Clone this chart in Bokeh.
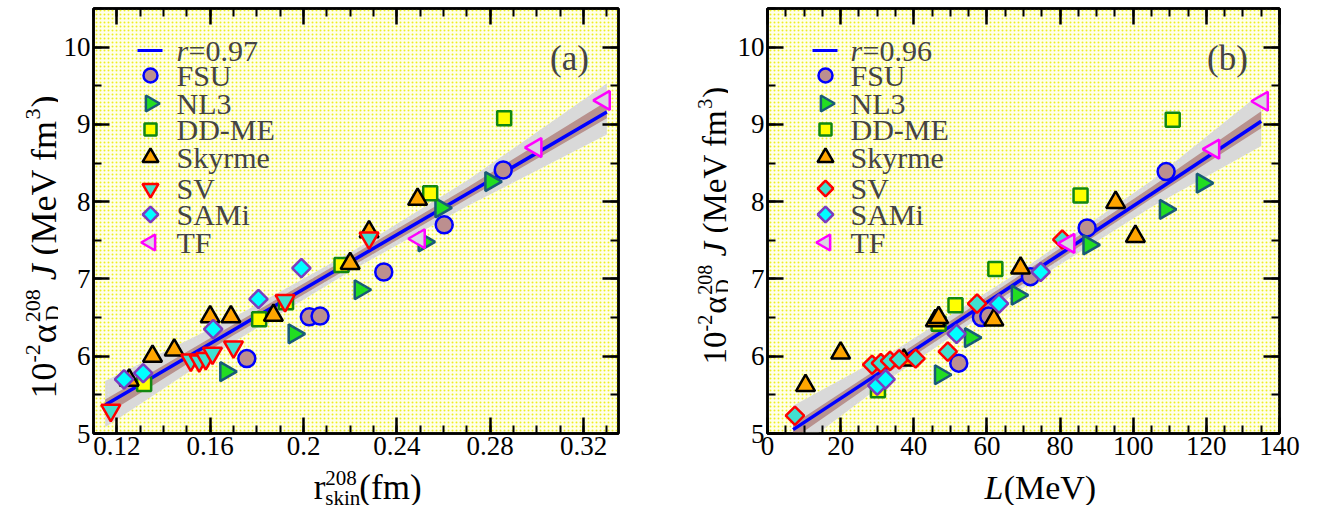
import math
import numpy as np
from bokeh.plotting import figure
from bokeh.models import Range1d, LinearAxis, FixedTicker, Label, BoxAnnotation
from bokeh.layouts import row, column
from bokeh.embed import file_html
from bokeh.resources import INLINE

SERIF = "Liberation Serif"

# ---------------- data, panel (a): r_skin (fm) vs 10^-2 alpha_D J ----------------
a_fsu_x = [0.1757, 0.2025, 0.2071, 0.2344, 0.2603, 0.2856]
a_fsu_y = [5.97, 6.51, 6.52, 7.09, 7.70, 8.41]
a_nl3_x = [0.1667, 0.1960, 0.2243, 0.2517, 0.2589, 0.2803]
a_nl3_y = [5.80, 6.29, 6.86, 7.48, 7.92, 8.26]
a_ddme_x = [0.1317, 0.1810, 0.1925, 0.2163, 0.2543, 0.2860]
a_ddme_y = [5.64, 6.48, 6.70, 7.18, 8.11, 9.08]
a_sky_x = [0.1253, 0.1353, 0.1446, 0.1600, 0.1689, 0.1871, 0.2200, 0.2281, 0.2489]
a_sky_y = [5.69, 6.00, 6.08, 6.51, 6.51, 6.53, 7.20, 7.61, 8.03]
a_sv_x = [0.1174, 0.1517, 0.1553, 0.1581, 0.1610, 0.1700, 0.1921, 0.2281]
a_sv_y = [5.30, 5.95, 5.94, 5.97, 6.04, 6.12, 6.72, 7.53]
a_sami_x = [0.1231, 0.1313, 0.1613, 0.1807, 0.1991]
a_sami_y = [5.70, 5.78, 6.35, 6.74, 7.14]
a_tf_x = [0.2496, 0.2996, 0.3289]
a_tf_y = [7.52, 8.70, 9.31]

a_band_x = [0.115, 0.17, 0.22, 0.27, 0.33]
a_fit_y = [5.37, 6.34, 7.22, 8.10, 9.16]
a_gray_lo = [5.08, 6.18, 7.10, 7.94, 8.87]
a_gray_hi = [5.68, 6.50, 7.34, 8.27, 9.53]
a_brown_lo = [5.24, 6.27, 7.15, 8.03, 9.08]
a_brown_hi = [5.44, 6.41, 7.29, 8.18, 9.30]

# ---------------- data, panel (b): L (MeV) vs 10^-2 alpha_D J ----------------
b_fsu_x = [52.3, 58.5, 60.5, 71.9, 87.4, 109.0]
b_fsu_y = [5.91, 6.50, 6.52, 7.03, 7.66, 8.39]
b_nl3_x = [47.3, 55.5, 68.3, 87.9, 108.8, 118.9]
b_nl3_y = [5.76, 6.24, 6.79, 7.44, 7.90, 8.24]
b_ddme_x = [30.2, 46.8, 51.4, 62.3, 85.6, 110.8]
b_ddme_y = [5.56, 6.42, 6.66, 7.13, 8.08, 9.06]
b_sky_x = [10.4, 20.0, 37.3, 45.9, 46.8, 61.9, 69.2, 95.2, 100.6]
b_sky_y = [5.62, 6.04, 5.95, 6.46, 6.50, 6.47, 7.14, 7.99, 7.55]
b_sv_x = [7.5, 28.6, 31.0, 33.5, 36.0, 40.5, 49.3, 57.3, 80.6]
b_sv_y = [5.23, 5.89, 5.91, 5.94, 5.96, 5.97, 6.06, 6.68, 7.51]
b_sami_x = [30.0, 32.3, 51.7, 63.3, 74.7]
b_sami_y = [5.62, 5.70, 6.29, 6.68, 7.09]
b_tf_x = [82.4, 122.0, 135.3]
b_tf_y = [7.46, 8.68, 9.30]

b_band_x = [7, 35, 70, 105, 135]
b_fit_y = [5.05, 5.92, 7.01, 8.10, 9.04]
b_gray_lo = [4.76, 5.76, 6.89, 7.93, 8.72]
b_gray_hi = [5.36, 6.08, 7.13, 8.27, 9.41]
b_brown_lo = [4.93, 5.85, 6.94, 8.04, 8.95]
b_brown_hi = [5.12, 5.99, 7.08, 8.19, 9.17]

models = ["FSU", "NL3", "DD-ME", "Skyrme", "SV", "SAMi", "TF"]
a_r_label = "=0.97"
b_r_label = "=0.96"

a_xticks = [0.12, 0.16, 0.20, 0.24, 0.28, 0.32]
a_xtick_labels = ["0.12", "0.16", "0.2", "0.24", "0.28", "0.32"]
b_xticks = [0, 20, 40, 60, 80, 100, 120, 140]
y_ticks = [5, 6, 7, 8, 9, 10]

# ---------------- styles ----------------
ROT_SQ = math.pi / 4
STY_A = {
    "FSU": dict(marker="circle", angle=0.0, size=17, fill="#bc8f8f", line="#0000ff"),
    "NL3": dict(marker="triangle", angle=-math.pi / 2, size=19, fill="#22dd22", line="#195a78"),
    "DD-ME": dict(marker="square", angle=0.0, size=14, fill="#ffff00", line="#118811"),
    "Skyrme": dict(marker="triangle", angle=0.0, size=19, fill="#ffa500", line="#000000"),
    "SV": dict(marker="inverted_triangle", angle=0.0, size=19, fill="#40e0d0", line="#ff0000"),
    "SAMi": dict(marker="square", angle=ROT_SQ, size=13, fill="#00ffff", line="#7b3cc0"),
    "TF": dict(marker="triangle", angle=math.pi / 2, size=19, fill="#d8d8e0", line="#ff00ff"),
}
STY_B = dict(STY_A)
STY_B["SV"] = dict(marker="square", angle=ROT_SQ, size=13, fill="#40e0d0", line="#ff0000")

FIG_H = 467
MB_TOP = 8
MB_BOTTOM = 34
FRAME_H = FIG_H - MB_TOP - MB_BOTTOM


def style_axis(ax, labels=True):
    ax.axis_line_width = 2.5
    ax.axis_line_color = "black"
    ax.major_tick_in = 16
    ax.major_tick_out = 0
    ax.minor_tick_in = 8
    ax.minor_tick_out = 0
    ax.major_tick_line_width = 2.5
    ax.minor_tick_line_width = 2
    ax.major_tick_line_color = "black"
    ax.minor_tick_line_color = "black"
    if labels:
        ax.major_label_text_font = SERIF
        ax.major_label_text_font_size = "27px"
        ax.major_label_text_color = "black"
        ax.major_label_standoff = 3
    else:
        ax.major_label_text_font_size = "1px"
        ax.major_label_text_color = None
        ax.major_label_standoff = 0


def make_fig(xr, width, mbl, mbr, xticks, xminor, xover):
    p = figure(width=width, height=FIG_H, x_range=Range1d(*xr), y_range=Range1d(5, 10.5),
               output_backend="svg", toolbar_location=None,
               min_border_left=mbl, min_border_right=mbr, min_border_top=MB_TOP,
               min_border_bottom=MB_BOTTOM, background_fill_color="#ffffea",
               border_fill_color="white")
    p.grid.visible = False
    p.outline_line_color = "black"
    p.outline_line_width = 2.5
    p.add_layout(BoxAnnotation(level="underlay", fill_alpha=0, line_alpha=0,
                               hatch_pattern="dot", hatch_color="#eeee22",
                               hatch_scale=4, hatch_weight=1.6))
    yminor = list(np.arange(5, 10.51, 0.5))
    p.xaxis.ticker = FixedTicker(ticks=xticks, minor_ticks=xminor)
    p.yaxis.ticker = FixedTicker(ticks=y_ticks, minor_ticks=yminor)
    if xover:
        p.xaxis.major_label_overrides = xover
    style_axis(p.xaxis[0])
    style_axis(p.yaxis[0])
    top = LinearAxis(ticker=FixedTicker(ticks=xticks, minor_ticks=xminor))
    style_axis(top, labels=False)
    p.add_layout(top, "above")
    rgt = LinearAxis(ticker=FixedTicker(ticks=y_ticks, minor_ticks=yminor))
    style_axis(rgt, labels=False)
    p.add_layout(rgt, "right")
    return p


def draw_data(p, series, sty, band):
    bx, fy, glo, ghi, blo, bhi = band
    p.varea(x=bx, y1=glo, y2=ghi, fill_color="#d9d9d9", fill_alpha=1.0)
    p.varea(x=bx, y1=blo, y2=bhi, fill_color="#b8928e", fill_alpha=1.0)
    p.line(x=bx, y=fy, line_color="#0000ff", line_width=3.5)
    for name in models:
        xs, ys = series[name]
        s = sty[name]
        p.scatter(x=xs, y=ys, marker=s["marker"], angle=s["angle"], size=s["size"],
                  fill_color=s["fill"], line_color=s["line"], line_width=2.5)


LEG_ROWS = [42, 67, 95, 121, 149, 180, 206, 234]


def draw_legend(p, xr, frame_w, sty, rlabel, mx, tx, lx0, lx1):
    ppx = frame_w / (xr[1] - xr[0])
    ppy = FRAME_H / (10.5 - 5)
    X = lambda px: xr[0] + px / ppx
    Y = lambda py: 10.5 - py / ppy
    r0 = LEG_ROWS[0]
    p.segment(x0=[X(lx0)], y0=[Y(r0)], x1=[X(lx1)], y1=[Y(r0)], line_color="#0000ff", line_width=3)
    p.add_layout(Label(x=xr[0], y=10.5, x_offset=tx, y_offset=-r0, text="r", text_font=SERIF,
                       text_font_style="italic", text_font_size="30px", text_baseline="middle"))
    p.add_layout(Label(x=xr[0], y=10.5, x_offset=tx + 12, y_offset=-r0, text=rlabel, text_font=SERIF,
                       text_font_size="30px", text_baseline="middle"))
    leg_size = {"circle": 14, "triangle": 16, "square": 12, "inverted_triangle": 16}
    for name, ry in zip(models, LEG_ROWS[1:]):
        s = sty[name]
        size = leg_size[s["marker"]]
        if s["marker"] == "square" and s["angle"] != 0:
            size = 11
        p.scatter(x=[X(mx)], y=[Y(ry)], marker=s["marker"], angle=s["angle"], size=size,
                  fill_color=s["fill"], line_color=s["line"], line_width=2.5)
        p.add_layout(Label(x=xr[0], y=10.5, x_offset=tx, y_offset=-ry, text=name, text_font=SERIF,
                           text_font_size="30px", text_baseline="middle"))


# ---------------- axis titles: small text-only Bokeh figures ----------------
EM = {"0": .5, "1": .5, "2": .5, "3": .5, "8": .5, "-": .333, "\u03b1": .55, "D": .722,
      "J": .444, " ": .25, "(": .333, ")": .333, "M": .889, "e": .444, "V": .722, "f": .333,
      "m": .778, "r": .333, "s": .389, "k": .5, "i": .278, "n": .5, "L": .556}
BASE_FIX = 0.23  # Label anchor sits this fraction of the font size above the baseline


def tw(txt, size):
    return sum(EM.get(c, .5) for c in txt) * size


def text_fig(w, h):
    f = figure(width=w, height=h, x_range=Range1d(0, w), y_range=Range1d(0, h),
               x_axis_type=None, y_axis_type=None, toolbar_location=None,
               output_backend="svg", min_border=0, outline_line_color=None,
               background_fill_color="white", border_fill_color="white")
    return f


def tlabel(f, x, y, txt, size, italic=False, angle=0.0):
    f.add_layout(Label(x=x, y=y, text=txt, text_font=SERIF, text_font_size=f"{size}px",
                       text_font_style="italic" if italic else "normal", text_color="black",
                       text_baseline="alphabetic", text_align="left", angle=angle))


def ylab_fig(w, h, X, Y, s, t):
    f = text_fig(w, h)
    sup = -round(0.39 * s)
    sub = round(0.15 * s)
    ang = math.pi / 2

    def put(txt, u, v, size, italic=False):
        tlabel(f, X + v - BASE_FIX * size, h - Y + u, txt, size, italic, ang)
    u = 0.0
    put("10", u, 0, s); u += tw("10", s)
    put("-2", u, sup, t); u += tw("-2", t) + 1
    put("\u03b1", u, 0, s); u += tw("\u03b1", s) + 1
    put("208", u, sup, t)
    put("D", u + 1, sub, t); u += tw("208", t)
    u += tw(" ", s)
    put("J", u, 0, s, True); u += tw("J", s) + tw(" ", s)
    put("(MeV fm", u, 0, s); u += tw("(MeV fm", s) + 1
    put("3", u, sup, t); u += tw("3", t) + 1
    put(")", u, 0, s)
    return f


def xlab_fig_a(w, h, X, Y, s, t):
    f = text_fig(w, h)
    sup = -round(0.38 * s)
    sub = round(0.20 * s)

    def put(txt, u, v, size, italic=False):
        tlabel(f, X + u, h - (Y + v) + BASE_FIX * size, txt, size, italic)
    u = 0.0
    put("r", u, 0, s); u += tw("r", s) + 1
    put("208", u, sup, t)
    put("skin", u, sub, t); u += max(tw("208", t), tw("skin", t)) + 2
    put("(fm)", u, 0, s)
    return f


def xlab_fig_b(w, h, X, Y, s):
    f = text_fig(w, h)
    tlabel(f, X, h - Y + BASE_FIX * s, "L", s, True)
    tlabel(f, X + tw("L", s) + 3, h - Y + BASE_FIX * s, "(MeV)", s)
    return f


# ---------------- panel (a) ----------------
A_XR = (0.11, 0.335)
a_minor = [round(v, 3) for v in np.arange(0.11, 0.3351, 0.01)]
pa = make_fig(A_XR, 570, 35, 10, a_xticks, a_minor, dict(zip(a_xticks, a_xtick_labels)))
draw_data(pa, {
    "FSU": (a_fsu_x, a_fsu_y), "NL3": (a_nl3_x, a_nl3_y), "DD-ME": (a_ddme_x, a_ddme_y),
    "Skyrme": (a_sky_x, a_sky_y), "SV": (a_sv_x, a_sv_y), "SAMi": (a_sami_x, a_sami_y),
    "TF": (a_tf_x, a_tf_y)}, STY_A,
    (a_band_x, a_fit_y, a_gray_lo, a_gray_hi, a_brown_lo, a_brown_hi))
draw_legend(pa, A_XR, 525, STY_A, a_r_label, 57, 83, 44, 69)
pa.add_layout(Label(x=A_XR[1], y=10.5, x_offset=-49, y_offset=-50, text="(a)", text_font=SERIF,
                    text_font_size="35px", text_align="center", text_baseline="middle"))

# ---------------- panel (b) ----------------
B_XR = (0, 140)
b_minor = list(range(0, 141, 5))
pb = make_fig(B_XR, 583, 39, 32, b_xticks, b_minor, None)
draw_data(pb, {
    "FSU": (b_fsu_x, b_fsu_y), "NL3": (b_nl3_x, b_nl3_y), "DD-ME": (b_ddme_x, b_ddme_y),
    "Skyrme": (b_sky_x, b_sky_y), "SV": (b_sv_x, b_sv_y), "SAMi": (b_sami_x, b_sami_y),
    "TF": (b_tf_x, b_tf_y)}, STY_B,
    (b_band_x, b_fit_y, b_gray_lo, b_gray_hi, b_brown_lo, b_brown_hi))
draw_legend(pb, B_XR, 512, STY_B, b_r_label, 58, 83, 45, 70)
pb.add_layout(Label(x=B_XR[1], y=10.5, x_offset=-52, y_offset=-50, text="(b)", text_font=SERIF,
                    text_font_size="35px", text_align="center", text_baseline="middle"))

# ---------------- axis-title blocks ----------------
XL_H = 505 - FIG_H
ya = ylab_fig(58, FIG_H + XL_H, 52, 398, 36, 22)
yb = ylab_fig(100, FIG_H + XL_H, 94, 364, 33, 20)
xa = xlab_fig_a(570, XL_H, 239, 28, 35, 21)
xb = xlab_fig_b(583, XL_H, 247, 28, 34)

layout = row(ya, column(pa, xa), yb, column(pb, xb))
open("out.html", "w").write(file_html(layout, INLINE))
